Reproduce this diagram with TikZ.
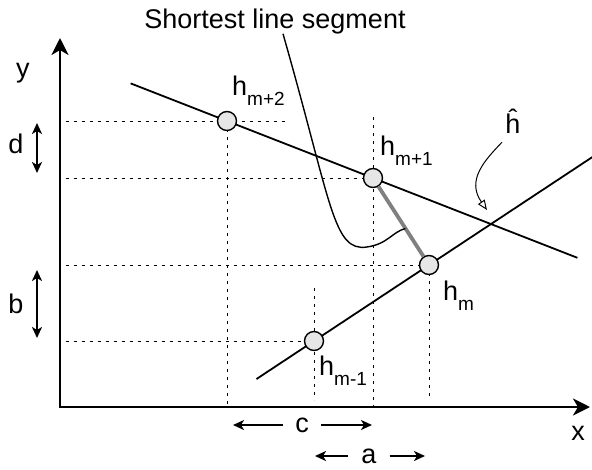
\documentclass[tikz,border=0pt]{standalone}
\usepackage{fontspec}
\setmainfont{Liberation Sans}
\usetikzlibrary{arrows.meta,positioning,calc}
\definecolor{Ink}{HTML}{000000}
\definecolor{DotFill}{HTML}{E6E6E6}
\definecolor{SegGray}{HTML}{808080}
\newcommand{\hlab}[1]{h\raisebox{-10pt}{\fontsize{19}{19}\selectfont #1}}
\tikzset{
  lab/.style={inner sep=0pt,font=\fontsize{27}{32}\selectfont,text=Ink},
  sample/.style={circle,draw=Ink,fill=DotFill,line width=1.4pt,minimum size=19pt,inner sep=0pt},
  axisline/.style={{Stealth[length=17pt,width=17pt,inset=5pt]}-{Stealth[length=17pt,width=17pt,inset=5pt]},line width=2.8pt,draw=Ink},
  hyper/.style={draw=Ink,line width=1.8pt},
  guide/.style={draw=Ink,line width=0.9pt,dash pattern=on 3pt off 5pt},
  dimarrow/.style={>={Stealth[length=11pt,width=10pt,inset=3pt]},draw=Ink,line width=1.8pt},
  shortseg/.style={draw=SegGray,line width=3.8pt},
  callout/.style={draw=Ink,line width=1.4pt}
}

\begin{document}
\begin{tikzpicture}[x=1pt,y=-1pt]
  \useasboundingbox (0,0) rectangle (592,469);
  % axes and sample positions
  \coordinate (O) at (60,407);
  \coordinate (Y) at (60,38);
  \coordinate (X) at (590,407);
  \coordinate (gx) at (66,0);
  \coordinate (hmp2) at (227,121);
  \coordinate (hmp1) at (373,178);
  \coordinate (hm) at (429,265);
  \coordinate (hmm1) at (314,341);
  % dotted guides
  \draw[guide] (gx |- hmp2) -- ($(hmp2)+(58,0)$);
  \draw[guide] (gx |- hmp1) -- (hmp1);
  \draw[guide] (gx |- hm) -- (hm);
  \draw[guide] (gx |- hmm1) -- (hmm1);
  \draw[guide] (hmp2) -- (hmp2 |- O);
  \draw[guide] ($(hmp1)+(0,-61)$) -- (hmp1 |- O);
  \draw[guide] (hm) -- ($(hm |- O)+(0,-10)$);
  \draw[guide] ($(hmm1)+(0,-53)$) -- ($(hmm1 |- O)+(0,-7)$);
  % the two lines
  \draw[hyper] ($(hmp2)!-0.66!(hmp1)$) -- ($(hmp2)!2.4!(hmp1)$);
  \draw[hyper] ($(hmm1)!-0.5!(hm)$) -- ($(hmm1)!2.42!(hm)$);
  \draw[axisline] (Y) -- (O) -- (X);
  % samples
  \node[sample] (p2) at (hmp2) {};
  \node[sample] (p1) at (hmp1) {};
  \node[sample] (p0) at (hm) {};
  \node[sample] (m1) at (hmm1) {};
  \draw[shortseg] (p1) -- (p0);
  % labels
  \node[lab,anchor=base west] (lp2) at (232,95) {\hlab{m+2}};
  \node[lab,anchor=base west] (lp1) at (380,155) {\hlab{m+1}};
  \node[lab,anchor=base west] (lp0) at (443,300) {\hlab{m}};
  \node[lab,anchor=base west] (lm1) at (319,375) {\hlab{m-1}};
  \node[lab,anchor=base] (title) at (275,28) {Shortest line segment};
  \node[lab,anchor=base] (hhat) at (513,133) {ĥ};
  \node[lab,anchor=base] (yl) at (23,77) {y};
  \node[lab,anchor=base] (xl) at (578,440) {x};
  \node[lab,anchor=base] (dl) at (16,153) {d};
  \node[lab,anchor=base] (bl) at (16,313) {b};
  \node[lab,inner xsep=12pt] (cl) at (302,425) {c};
  \node[lab,inner xsep=13pt] (al) at (369,456) {a};
  % callouts
  \draw[callout] ([xshift=8pt]title.south) .. controls (332,205) and (333,252) .. (367,247)
    .. controls (388,244) and (392,232) .. ($(p1)!0.58!(p0)$);
  \coordinate (hit) at (487,210);
  \draw[callout,line width=1pt,-{Triangle[open,length=10pt,width=8pt]}] ([shift={(-11,9)}]hhat.south)
    .. controls (485,160) and (466,180) .. (hit);
  % spacings
  \coordinate (dT) at (37,123);
  \coordinate (dB) at (37,173);
  \coordinate (bT) at (37,270);
  \coordinate (bB) at (37,338);
  \coordinate (cL) at (233,425);
  \coordinate (cR) at (372,425);
  \coordinate (aL) at (315,456);
  \coordinate (aR) at (425,456);
  \draw[dimarrow,<->] (dT) -- (dB);
  \draw[dimarrow,<->] (bT) -- (bB);
  \draw[dimarrow,->] (cl) -- (cL);
  \draw[dimarrow,->] (cl) -- (cR);
  \draw[dimarrow,->] (al) -- (aL);
  \draw[dimarrow,->] (al) -- (aR);
\end{tikzpicture}
\end{document}
